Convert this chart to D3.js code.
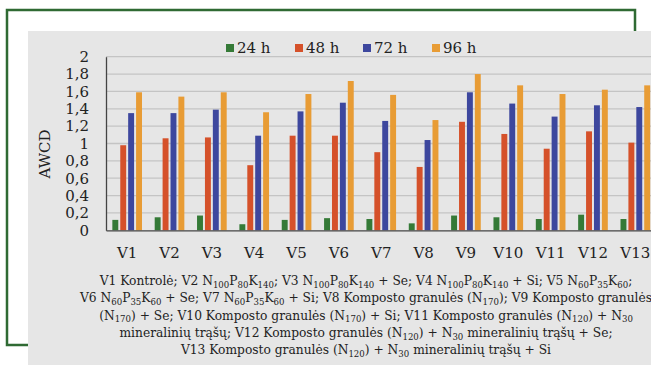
<!DOCTYPE html>
<html>
<head>
<meta charset="utf-8">
<script src="https://cdn.jsdelivr.net/npm/d3@7"></script>
<style>
  html, body { margin: 0; padding: 0; background: #fff; }
  svg { display: block; }
  text { font-family: "DejaVu Serif", "Liberation Serif", serif; fill: #222; }
</style>
</head>
<body>
<svg id="chart" width="651" height="365"></svg>
<script>
// AWCD by variant and incubation time

const categories = ['V1', 'V2', 'V3', 'V4', 'V5', 'V6', 'V7', 'V8', 'V9', 'V10', 'V11', 'V12', 'V13'];
const seriesNames = ['24 h', '48 h', '72 h', '96 h'];
const seriesColors = ['#357a37', '#d5512a', '#3d479e', '#e89c35'];

const values24 = [0.12, 0.15, 0.17, 0.07, 0.12, 0.14, 0.13, 0.08, 0.17, 0.15, 0.13, 0.18, 0.13];
const values48 = [0.98, 1.06, 1.07, 0.75, 1.09, 1.09, 0.90, 0.73, 1.25, 1.11, 0.94, 1.14, 1.01];
const values72 = [1.35, 1.35, 1.39, 1.09, 1.37, 1.47, 1.26, 1.04, 1.59, 1.46, 1.31, 1.44, 1.42];
const values96 = [1.59, 1.54, 1.59, 1.36, 1.57, 1.72, 1.56, 1.27, 1.80, 1.67, 1.57, 1.62, 1.67];

const yTicks = [0, 0.2, 0.4, 0.6, 0.8, 1, 1.2, 1.4, 1.6, 1.8, 2];

const captionLines = [
  'V1 Kontrolė; V2 N_{100}P_{80}K_{140}; V3 N_{100}P_{80}K_{140} + Se; V4 N_{100}P_{80}K_{140} + Si; V5 N_{60}P_{35}K_{60};',
  'V6 N_{60}P_{35}K_{60} + Se; V7 N_{60}P_{35}K_{60} + Si; V8 Komposto granulės (N_{170}); V9 Komposto granulės',
  '(N_{170}) + Se; V10 Komposto granulės (N_{170}) + Si; V11 Komposto granulės (N_{120}) + N_{30}',
  'mineralinių trąšų; V12 Komposto granulės (N_{120}) + N_{30} mineralinių trąšų + Se;',
  'V13 Komposto granulės (N_{120}) + N_{30} mineralinių trąšų + Si'
];

const seriesValues = [values24, values48, values72, values96];
const rows = categories.map((c, i) => ({
  cat: c,
  vals: seriesNames.map((s, k) => ({ series: s, k, value: seriesValues[k][i] }))
}));

const svg = d3.select('#chart');

// green frame and grey panel
const frameColor = '#2f6a33';
svg.append('rect')
  .attr('x', 28).attr('y', 31).attr('width', 640).attr('height', 340)
  .attr('fill', '#e6e6e6');

svg.append('path')
  .attr('d', 'M 28 345 H 7 V 10 H 635 V 31')
  .attr('fill', 'none')
  .attr('stroke', frameColor)
  .attr('stroke-width', 2.5);

const plot = { left: 106, right: 656.5, top: 56.7, bottom: 230.3 };

const x0 = d3.scaleBand()
  .domain(categories)
  .range([plot.left, plot.right])
  .paddingInner(0.3)
  .paddingOuter(0.15);

const x1 = d3.scaleBand()
  .domain(seriesNames)
  .range([0, x0.bandwidth()])
  .paddingInner(0.25);

const y = d3.scaleLinear()
  .domain([0, 2])
  .range([plot.bottom, plot.top]);

const fmt = v => String(+v.toFixed(1)).replace('.', ',');

// gridlines
svg.append('g')
  .selectAll('line')
  .data(yTicks.filter(t => t > 0))
  .join('line')
  .attr('x1', plot.left).attr('x2', 651)
  .attr('y1', d => y(d)).attr('y2', d => y(d))
  .attr('stroke', '#c4c4c4')
  .attr('stroke-width', 1.3);

// y axis
const yAxis = svg.append('g')
  .attr('transform', `translate(${plot.left},0)`)
  .call(d3.axisLeft(y).tickValues(yTicks).tickFormat(fmt).tickSize(0).tickPadding(17));
yAxis.select('.domain').attr('stroke', '#444').attr('stroke-width', 1.3);
yAxis.selectAll('text')
  .attr('font-size', 15)
  .attr('font-family', '"DejaVu Serif", serif')
  .attr('fill', '#222');

// bars
svg.append('g')
  .selectAll('g')
  .data(rows)
  .join('g')
  .attr('transform', d => `translate(${x0(d.cat)},0)`)
  .selectAll('rect')
  .data(d => d.vals)
  .join('rect')
  .attr('x', d => x1(d.series))
  .attr('width', x1.bandwidth())
  .attr('y', d => y(d.value))
  .attr('height', d => y(0) - y(d.value))
  .attr('fill', d => seriesColors[d.k]);

// x axis
const xAxis = svg.append('g')
  .attr('transform', `translate(0,${plot.bottom})`)
  .call(d3.axisBottom(x0).tickSize(0).tickPadding(17));
xAxis.select('.domain').attr('stroke', '#444').attr('stroke-width', 1.3);
xAxis.selectAll('text')
  .attr('font-size', 15)
  .attr('font-family', '"DejaVu Serif", serif')
  .attr('fill', '#222');

// y label
svg.append('text')
  .attr('transform', 'translate(50,154) rotate(-90)')
  .attr('text-anchor', 'middle')
  .attr('font-size', 15)
  .text('AWCD');

// legend
const legendX = [226, 295, 363, 432];
const legend = svg.append('g')
  .selectAll('g')
  .data(seriesNames)
  .join('g')
  .attr('transform', (d, i) => `translate(${legendX[i]},44)`);
legend.append('rect')
  .attr('width', 8).attr('height', 8)
  .attr('fill', (d, i) => seriesColors[i]);
legend.append('text')
  .attr('x', 11).attr('y', 9)
  .attr('font-size', 15)
  .text(d => d);

// caption with subscripts; font size fitted so the first line spans ~533px
function drawCaption(size) {
  const g = svg.append('g').attr('class', 'caption');
  const sub = size * 0.7;
  const shift = size * 0.22;
  captionLines.forEach((line, i) => {
    const t = g.append('text')
      .attr('x', 366)
      .attr('y', 285 + i * 17.3)
      .attr('text-anchor', 'middle')
      .attr('font-size', size);
    let lowered = false;
    line.split(/(_\{[^}]*\})/).filter(s => s.length).forEach(part => {
      const isSub = part.startsWith('_{');
      const span = t.append('tspan')
        .attr('font-size', isSub ? sub : size)
        .text(isSub ? part.slice(2, -1) : part);
      if (isSub && !lowered) { span.attr('dy', shift); lowered = true; }
      if (!isSub && lowered) { span.attr('dy', -shift); lowered = false; }
    });
  });
  return g;
}

let cap = drawCaption(13);
const w = cap.select('text').node().getComputedTextLength();
cap.remove();
drawCaption(13 * 533 / w);
</script>
</body>
</html>
